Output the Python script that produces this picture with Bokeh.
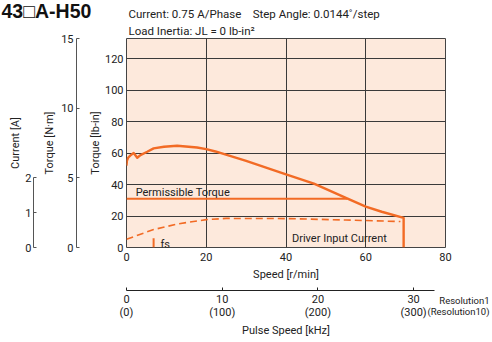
from bokeh.plotting import figure
from bokeh.models import Range1d, LinearAxis, FixedTicker, Title, Label
from bokeh.embed import file_html
from bokeh.resources import INLINE

# ---------------- data ----------------
speed_torque = [0, 0.1, 0.4, 1.0, 1.8, 2.7, 3.5, 5.2, 6.8, 9.4, 12.7, 17.7, 20, 22.3, 30, 40, 47, 55.3, 60, 64, 69.5, 69.5]
torque_lbin = [52, 55, 57, 58.5, 60, 57, 58.7, 60.8, 63, 64, 64.6, 63.5, 62.5, 61, 55, 46.5, 40.6, 31.2, 26, 22.7, 18.8, 0]

speed_current = [0, 6.8, 13, 20, 25, 40, 55, 68.7]
current_a = [0.235, 0.515, 0.68, 0.80, 0.835, 0.83, 0.79, 0.745]

permissible_speed = [0, 55.3]
permissible_torque_lbin = [31.0, 31.0]

fs_speed = [6.8]
fs_height_lbin = [5.8]

speed_ticks = [0, 20, 40, 60, 80]
torque_lbin_ticks = [0, 20, 40, 60, 80, 100, 120]
torque_nm_ticks = [0, 5, 10, 15]
current_ticks = [0, 1, 2]
pulse_ticks = [0, 10, 20, 30]
pulse_labels = ["0\n(0)", "10\n(100)", "20\n(200)", "30\n(300)"]

NM_TO_LBIN = 8.8507
TORQUE_NM_MAX = 15
Y_MAX = TORQUE_NM_MAX * NM_TO_LBIN
CURRENT_MAX = 6            # 2 A lines up with 5 N·m
RPM_PER_KHZ = 2.4          # 0.0144°/step, Resolution 1
SPEED_MAX = 80
PULSE_AXIS_END = 32.2

# ---------------- layout (page pixels) ----------------
W, H = 492, 340
FX0, FX1, FY1, FY0 = 126, 445, 38, 250   # frame left/right/top/bottom

FONT = "Roboto"
ORANGE = "#F26B25"
GRID = "#3a3a3a"
TXT = "#222222"
FS = "11px"

p = figure(width=W, height=H,
           x_range=Range1d(0, SPEED_MAX), y_range=Range1d(0, Y_MAX),
           output_backend="svg", toolbar_location=None,
           min_border_left=FX0, min_border_right=W - FX1,
           min_border_top=FY1, min_border_bottom=H - FY0)
p.extra_y_ranges = {"nm": Range1d(0, TORQUE_NM_MAX), "amp": Range1d(0, CURRENT_MAX)}
p.extra_x_ranges = {"pulse": Range1d(0, SPEED_MAX / RPM_PER_KHZ)}

p.background_fill_color = "#FDE9DC"
p.border_fill_color = "white"
p.outline_line_color = "#444444"
p.outline_line_width = 1

p.xgrid.ticker = FixedTicker(ticks=speed_ticks)
p.ygrid.ticker = FixedTicker(ticks=torque_lbin_ticks)
for g in (p.xgrid, p.ygrid):
    g.grid_line_color = GRID
    g.grid_line_width = 1


def style_axis(ax, label_size=FS, tick_size=FS):
    ax.axis_label_text_font = FONT
    ax.axis_label_text_font_size = label_size
    ax.axis_label_text_font_style = "normal"
    ax.axis_label_text_color = TXT
    ax.major_label_text_font = FONT
    ax.major_label_text_font_size = tick_size
    ax.major_label_text_color = TXT
    ax.minor_tick_line_color = None
    ax.minor_tick_out = 0
    ax.minor_tick_in = 0


def spacer(side, standoff):
    p.add_layout(Title(text=" ", text_font_size="1px", standoff=standoff), side)


# main speed axis
xa = p.xaxis[0]
xa.ticker = FixedTicker(ticks=speed_ticks)
xa.axis_label = "Speed [r/min]"
xa.axis_line_color = None
xa.major_tick_line_color = None
xa.major_tick_out = 0
xa.major_label_standoff = 5
xa.axis_label_standoff = 4
style_axis(xa)

# main torque axis (lb-in)
ya = p.yaxis[0]
ya.ticker = FixedTicker(ticks=torque_lbin_ticks)
ya.axis_label = "Torque [lb-in]"
ya.axis_line_color = None
ya.major_tick_line_color = None
ya.major_tick_out = 0
ya.major_label_standoff = 3
ya.axis_label_standoff = 0
style_axis(ya)

# N·m axis and current axis further left
spacer("left", 6)
nm_axis = LinearAxis(y_range_name="nm", ticker=FixedTicker(ticks=torque_nm_ticks),
                     bounds=(0, TORQUE_NM_MAX), axis_label="Torque [N·m]")
amp_axis = LinearAxis(y_range_name="amp", ticker=FixedTicker(ticks=current_ticks),
                      bounds=(0, 2), axis_label="Current [A]")
for ax, ms, ls in ((nm_axis, 3, 2), (amp_axis, 2, 0)):
    ax.axis_line_color = "#555555"
    ax.major_tick_line_color = "#555555"
    ax.major_tick_in = 3
    ax.major_tick_out = 0
    ax.major_label_standoff = ms
    ax.axis_label_standoff = ls
    style_axis(ax)
p.add_layout(nm_axis, "left")
spacer("left", 4)
p.add_layout(amp_axis, "left")

# gap, resolution note (zero-height titles), pulse speed axis
spacer("below", 4)
for txt, so in (("Resolution1", -30), ("(Resolution10)", -53)):
    p.add_layout(Title(text=txt, align="right", offset=-(W - 3 - FX1), standoff=so,
                       vertical_align="bottom", text_font=FONT, text_font_size="9.5px",
                       text_font_style="normal", text_color=TXT), "below")
pulse_axis = LinearAxis(x_range_name="pulse", ticker=FixedTicker(ticks=pulse_ticks),
                        bounds=(0, PULSE_AXIS_END), axis_label="Pulse Speed [kHz]",
                        major_label_overrides=dict(zip(pulse_ticks, pulse_labels)))
pulse_axis.axis_line_color = "#222222"
pulse_axis.major_tick_line_color = "#222222"
pulse_axis.major_tick_in = 3
pulse_axis.major_tick_out = 0
pulse_axis.major_label_standoff = 2
pulse_axis.axis_label_standoff = 2
pulse_axis.major_label_text_line_height = 1.05
style_axis(pulse_axis)
p.add_layout(pulse_axis, "below")

# header: load inertia line, model name (zero-height title), current/step angle line
line2 = Title(text="Load Inertia: JL = 0 lb-in²", align="left", offset=2, standoff=2,
              text_font=FONT, text_font_size="11.5px", text_font_style="normal",
              text_color=TXT)
p.add_layout(line2, "above")
model_name = Title(text="43□A-H50", align="left", offset=-(FX0 - 1), standoff=-42,
                   vertical_align="top", text_font="Liberation Sans",
                   text_font_size="19.5px", text_font_style="bold", text_color="#111111")
p.add_layout(model_name, "above")
p.title.text = "Current: 0.75 A/Phase\u00a0\u00a0\u00a0\u00a0Step Angle: 0.0144˚/step"
p.title.align = "left"
p.title.offset = 2
p.title.standoff = 0
p.title.text_font = FONT
p.title.text_font_size = "11.5px"
p.title.text_font_style = "normal"
p.title.text_color = TXT

# ---------------- glyphs ----------------
p.line(permissible_speed, permissible_torque_lbin, line_color=ORANGE, line_width=2)
p.line(speed_current, current_a, y_range_name="amp", line_color=ORANGE,
       line_width=1.6, line_dash="7 4")
p.line(speed_torque, torque_lbin, line_color=ORANGE, line_width=2.4, line_join="round")
p.segment(x0=fs_speed, y0=[0], x1=fs_speed, y1=fs_height_lbin, line_color=ORANGE, line_width=2)

# ---------------- in-frame texts ----------------
def lab(x, y, text, size="11px", **kw):
    p.add_layout(Label(x=x, y=y, text=text, text_font=FONT, text_font_size=size,
                       text_color=TXT, text_baseline="alphabetic", **kw))


lab(2.3, 34.8, "Permissible Torque")
lab(41.5, 5.5, "Driver Input Current")
lab(8.5, 2.0, "fs")

open("out.html", "w").write(file_html(p, INLINE))
